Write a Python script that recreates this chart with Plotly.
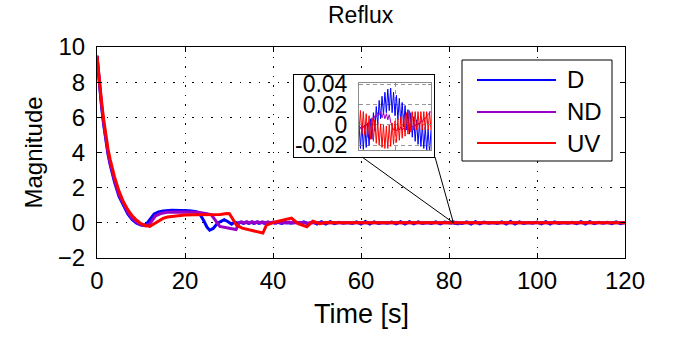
import numpy as np
import plotly.graph_objects as go

# ---------------- data ----------------
# inset sample clock (80 s .. 82 s, 0.04 s step)
t_zoom = np.round(80 + 0.04 * np.arange(51), 2).tolist()

D_zoom = [0.002, -0.023, 0.001, -0.024, 0.000, -0.022, 0.002, -0.020, 0.006, -0.014,
          0.012, -0.006, 0.018, 0.000, 0.024, 0.006, 0.028, 0.010, 0.032, 0.012,
          0.035, 0.014, 0.036, 0.012, 0.032, 0.009, 0.029, 0.005, 0.026, 0.002,
          0.022, -0.002, 0.019, -0.005, 0.015, -0.009, 0.012, -0.012, 0.008, -0.016,
          0.005, -0.019, 0.002, -0.021, 0.000, -0.023, -0.002, -0.025, -0.004, -0.027,
          -0.005]
ND_zoom = [-0.005, -0.002, -0.006, -0.001, -0.004, 0.001, -0.002, 0.003, 0.002, 0.006,
           0.005, 0.009, 0.008, 0.012, 0.010, 0.013, 0.007, 0.012, 0.006, 0.011,
           0.005, 0.010, 0.003, -0.002, -0.005, -0.004, -0.006, -0.003, -0.005, -0.002,
           -0.005, -0.003, -0.006, -0.003, -0.005, -0.002, -0.004, -0.001, -0.003, 0.000,
           -0.002, 0.002, 0.000, 0.004, 0.003, 0.006, 0.006, 0.009, 0.010, 0.012,
           0.013]
UV_zoom = [-0.008, 0.014, -0.009, 0.013, -0.010, 0.011, -0.012, 0.009, -0.014, 0.007,
           -0.016, 0.005, -0.018, 0.003, -0.020, 0.001, -0.022, 0.000, -0.023, -0.001,
           -0.023, 0.000, -0.021, 0.002, -0.019, 0.004, -0.017, 0.006, -0.015, 0.008,
           -0.013, 0.010, -0.011, 0.012, -0.009, 0.014, -0.007, 0.013, -0.005, 0.013,
           -0.005, 0.013, -0.005, 0.013, -0.005, 0.013, -0.005, 0.013, -0.005, 0.013,
           -0.005]

D_t_early = [0, 0.5, 1, 1.5, 2, 2.5, 3, 4, 5, 6, 7, 8, 9, 10, 10.6, 11.3, 12, 13, 14, 15,
             17, 19, 21, 22.6, 23.5, 24.3, 25, 25.6, 26.4, 27.4, 28.9, 29.8, 30.6, 31.3,
             32, 32.6, 33.2, 33.8, 34.4, 35, 35.6, 36.2, 36.8, 37.4, 38, 38.6, 39.2, 39.8,
             40.4, 41, 42, 43, 44, 45, 46, 47, 48, 49, 50, 51,
             52, 53, 54, 55, 56, 57, 58, 59, 60, 61, 62, 63, 64, 65, 66, 67, 68, 69,
             70, 71, 72, 73, 74, 75, 76, 77, 78, 79]
D_v_early = [9.5, 7.9, 6.7, 5.6, 4.7, 3.9, 3.3, 2.3, 1.5, 0.95, 0.5, 0.18, -0.02, -0.12, -0.15, -0.05, 0.2, 0.5, 0.62, 0.68,
             0.72, 0.72, 0.69, 0.64, 0.45, 0.1, -0.25, -0.42, -0.32, -0.02, 0.18, 0.06, -0.08, 0.04,
             -0.02, 0.04, -0.03, 0.04, -0.03, 0.04, -0.03, 0.04, -0.03, 0.04, -0.03, 0.03, -0.03, 0.03,
             -0.02, 0.03, -0.03, 0.03, -0.02, 0.03, -0.02, 0.05, -0.06, 0.06, -0.07, 0.07,
             -0.07, 0.06, -0.05, 0.03, -0.02, 0.02, -0.03, 0.05, -0.07, 0.08, -0.07, 0.06, -0.04, 0.02,
             -0.02, 0.04, -0.06, 0.07, -0.07, 0.07, -0.06, 0.05, -0.03, 0.02, -0.03, 0.05, -0.06, 0.04]
D_t_late = [83, 84, 85, 86, 87, 88, 89, 90, 91, 92, 93, 94, 95, 96, 97, 98, 99, 100, 101, 102,
            103, 104, 105, 106, 107, 108, 109, 110, 111, 112, 113, 114, 115, 116, 117, 118, 119, 120]
D_v_late = [-0.04, 0.06, -0.07, 0.07, -0.06, 0.04, -0.02, 0.02, -0.04, 0.06, -0.07, 0.08, -0.07, 0.05, -0.03, 0.02, -0.02, 0.04,
            -0.06, 0.07, -0.07, 0.06, -0.04, 0.02, -0.02, 0.03, -0.05, 0.07, -0.07, 0.07, -0.05, 0.03, -0.02, 0.03, -0.05, 0.06,
            -0.05, 0.03]

ND_t_early = [0, 0.5, 1, 1.5, 2, 2.5, 3, 4, 5, 6, 7, 8, 9, 10, 11, 12, 13.3, 14.5, 16, 18,
              21, 23, 25, 26, 27.9, 30.5, 31.6, 32.3, 32.9, 33.5, 34.1, 34.7, 35.3, 35.9,
              36.5, 37.1, 37.7, 38.3, 38.9, 39.5, 40.1, 40.7, 41.3, 41.9, 42.5, 43.1, 43.7,
              44.5, 46, 48, 50, 55, 60, 70, 79]
ND_v_early = [9.5, 8.0, 6.8, 5.7, 4.8, 4.0, 3.4, 2.4, 1.6, 1.05, 0.6, 0.25, 0.03, -0.1, -0.17, -0.05, 0.4, 0.53, 0.6, 0.62,
              0.62, 0.6, 0.52, 0.45, -0.2, -0.35, -0.38, 0.0, 0.06, -0.02, 0.06, -0.02, 0.06, -0.02,
              0.06, -0.02, 0.05, -0.02, 0.05, -0.02, 0.05, -0.02, 0.05, -0.02, 0.04, -0.02, 0.04,
              -0.01, 0.02, -0.01, 0.01, 0.0, 0.0, 0.0, 0.0]
ND_t_late = [83, 90, 100, 110, 120]
ND_v_late = [0.0, 0.0, 0.0, 0.0, 0.0]

UV_t_early = [0, 0.5, 1, 1.5, 2, 2.5, 3, 4, 5, 6, 7, 8, 9, 10, 11, 12, 13, 14, 15, 16,
              18, 20, 22, 26, 28, 29.5, 30.1, 31.7, 33, 35.5, 37.7, 38.5, 40.5, 44.2, 45.7,
              47.7, 49.1, 50.6, 52, 55, 60, 70, 79]
UV_v_early = [9.5, 8.1, 7.0, 5.9, 5.0, 4.2, 3.6, 2.6, 1.8, 1.2, 0.75, 0.4, 0.15, -0.05, -0.15, -0.2, -0.05, 0.12, 0.25, 0.33,
              0.4, 0.44, 0.46, 0.46, 0.48, 0.53, 0.52, -0.13, -0.3, -0.45, -0.58, -0.13, 0.05, 0.27, -0.05,
              -0.22, 0.09, -0.05, 0.02, 0.0, 0.0, 0.0, 0.0]
UV_t_late = [83, 90, 100, 110, 120]
UV_v_late = [0.0, 0.0, 0.0, 0.0, 0.0]

series = [
    ("D", "#0000FF", D_t_early + t_zoom + D_t_late, D_v_early + D_zoom + D_v_late),
    ("ND", "#9B00C6", ND_t_early + t_zoom + ND_t_late, ND_v_early + ND_zoom + ND_v_late),
    ("UV", "#FF0000", UV_t_early + t_zoom + UV_t_late, UV_v_early + UV_zoom + UV_v_late),
]

x_ticks = [0, 20, 40, 60, 80, 100, 120]
y_ticks = [-2, 0, 2, 4, 6, 8, 10]
inset_y_ticks = [-0.02, 0, 0.02, 0.04]
inset_y_labels = ["-0.02", "0", "0.02", "0.04"]
zoom_point = (81, 0)

# ---------------- layout geometry (pixels) ----------------
W, H = 678, 337
L, R, T, B = 97, 625, 47, 258
X_RANGE = [0, 120]
Y_RANGE = [-2, 10]
IX0, IX1, IY0, IY1 = 359, 431, 83, 150          # inset plot area
BX0, BX1, BY0, BY1 = 294, 434, 75, 157          # inset outer (white) box
IXR = [80, 82]
IYR = [-0.0245, 0.041]

def px_x(px):
    return (px - L) / (R - L)

def px_y(py):
    return (B - py) / (B - T)

FONT = "Liberation Sans, Arial, Helvetica, sans-serif"

fig = go.Figure()
# main plot
for name, color, t, v in series:
    fig.add_trace(go.Scatter(x=t, y=v, mode="lines", name=name,
                             line=dict(color=color, width=3), xaxis="x", yaxis="y",
                             showlegend=False, hoverinfo="skip"))
# white backing box for the inset (own subplot, drawn above the main plot)
fig.add_trace(go.Scatter(x=[0, 1, 1, 0, 0], y=[0, 0, 1, 1, 0], mode="lines",
                         fill="toself", fillcolor="white", line=dict(color="white", width=0),
                         xaxis="x2", yaxis="y2", showlegend=False, hoverinfo="skip"))
# inset
for name, color, t, v in series:
    fig.add_trace(go.Scatter(x=t, y=v, mode="lines", name=name,
                             line=dict(color=color, width=1), xaxis="x3", yaxis="y3",
                             showlegend=False, hoverinfo="skip"))

shapes = []
# connector lines
fx = (zoom_point[0] - X_RANGE[0]) / (X_RANGE[1] - X_RANGE[0])
fy = (zoom_point[1] - Y_RANGE[0]) / (Y_RANGE[1] - Y_RANGE[0])
for cx in (IX0 + 3, BX1 + 1):
    shapes.append(dict(type="line", xref="paper", yref="paper", layer="above",
                       x0=px_x(cx), y0=px_y(BY1), x1=fx, y1=fy,
                       line=dict(color="black", width=1)))
# legend
LX0, LX1, LY0, LY1 = 462, 612, 60, 161
shapes.append(dict(type="rect", xref="paper", yref="paper", layer="above",
                   x0=px_x(LX0), x1=px_x(LX1), y0=px_y(LY1), y1=px_y(LY0),
                   fillcolor="white", line=dict(color="black", width=1)))
legend_rows = [80, 112, 143]
annotations = []
for (name, color, _, _), ry in zip(series, legend_rows):
    shapes.append(dict(type="line", xref="paper", yref="paper", layer="above",
                       x0=px_x(477), x1=px_x(556), y0=px_y(ry), y1=px_y(ry),
                       line=dict(color=color, width=2)))
    annotations.append(dict(text=name, xref="paper", yref="paper",
                            x=px_x(565), y=px_y(ry), xanchor="left", yanchor="middle",
                            showarrow=False, font=dict(size=24, color="black", family=FONT)))

annotations += [
    dict(text="Reflux", xref="paper", yref="paper", x=0.5, y=px_y(15),
         xanchor="center", yanchor="middle", showarrow=False,
         font=dict(size=23, color="black", family=FONT)),
    dict(text="Time [s]", xref="paper", yref="paper", x=0.5, y=px_y(314),
         xanchor="center", yanchor="middle", showarrow=False,
         font=dict(size=27, color="black", family=FONT)),
    dict(text="Magnitude", xref="paper", yref="paper", x=px_x(33), y=0.5,
         xanchor="center", yanchor="middle", textangle=-90, showarrow=False,
         font=dict(size=24, color="black", family=FONT)),
]

grid_dots = "1.5px,8px"
fig.update_layout(
    width=W, height=H,
    margin=dict(l=L, r=W - R, t=T, b=H - B),
    paper_bgcolor="white", plot_bgcolor="white",
    font=dict(family=FONT, size=24, color="black"),
    showlegend=False,
    xaxis=dict(domain=[0, 1], range=X_RANGE, tickvals=x_ticks, ticks="inside", ticklen=5,
               tickcolor="black", showline=True, linecolor="black", linewidth=1, mirror="ticks",
               showgrid=True, gridcolor="black", gridwidth=1, griddash=grid_dots,
               zeroline=False, tickfont=dict(size=24), ticklabelstandoff=1),
    yaxis=dict(domain=[0, 1], range=Y_RANGE, tickvals=y_ticks, ticks="inside", ticklen=5,
               tickcolor="black", showline=True, linecolor="black", linewidth=1, mirror="ticks",
               showgrid=True, gridcolor="black", gridwidth=1, griddash=grid_dots,
               zeroline=False, tickfont=dict(size=24), ticklabelstandoff=6),
    xaxis2=dict(domain=[px_x(BX0), px_x(BX1)], range=[0, 1], anchor="y2",
                showticklabels=False, ticks="", showgrid=False, zeroline=False,
                showline=True, linecolor="black", linewidth=1, mirror=True, fixedrange=True),
    yaxis2=dict(domain=[px_y(BY1), px_y(BY0)], range=[0, 1], anchor="x2",
                showticklabels=False, ticks="", showgrid=False, zeroline=False,
                showline=True, linecolor="black", linewidth=1, mirror=True, fixedrange=True),
    xaxis3=dict(domain=[px_x(IX0), px_x(IX1)], range=IXR, anchor="y3", tickvals=[81],
                showticklabels=False, ticks="inside", ticklen=3, tickcolor="#8c8c8c",
                showline=True, linecolor="#8c8c8c", mirror="ticks",
                showgrid=True, gridcolor="#9a9a9a", griddash="4px,3px", zeroline=False),
    yaxis3=dict(domain=[px_y(IY1), px_y(IY0)], range=IYR, anchor="x3",
                tickvals=inset_y_ticks, ticktext=inset_y_labels, ticks="inside", ticklen=3,
                tickcolor="#8c8c8c", showline=True, linecolor="#8c8c8c", mirror="ticks",
                showgrid=True, gridcolor="#9a9a9a", griddash="4px,3px", zeroline=False,
                tickfont=dict(size=23), ticklabelstandoff=6),
    shapes=shapes,
    annotations=annotations,
)

fig.write_html("out.html")
